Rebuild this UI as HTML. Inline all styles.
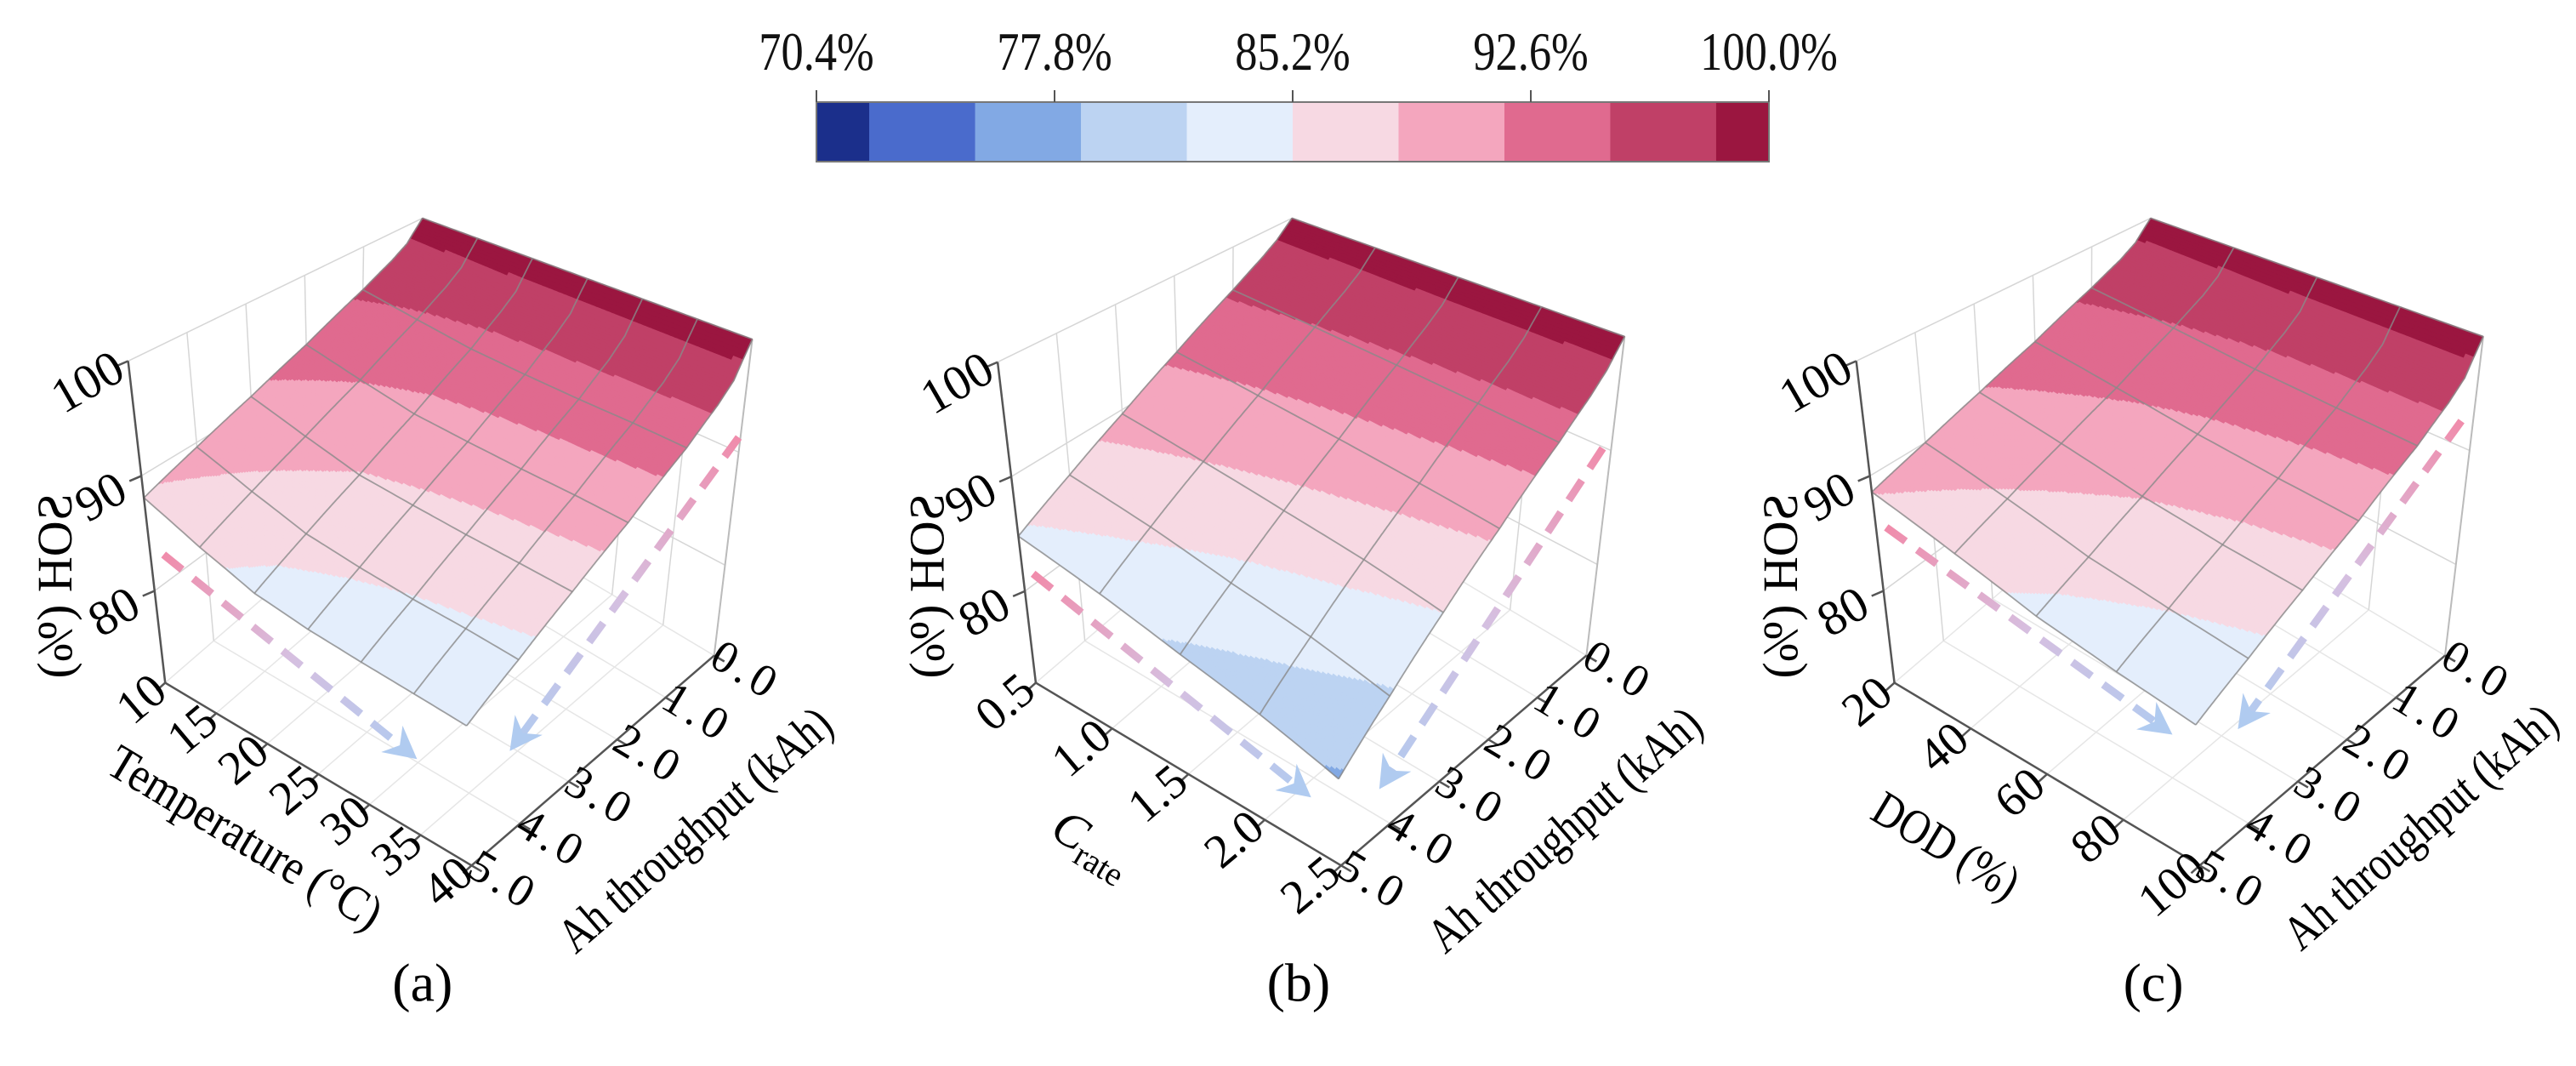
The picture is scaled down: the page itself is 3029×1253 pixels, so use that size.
<!DOCTYPE html>
<html><head><meta charset="utf-8">
<style>
html,body{margin:0;padding:0;background:#fff;}
svg{display:block;font-family:"Liberation Serif",serif;}
</style></head>
<body>
<svg id="fig" width="3029" height="1253" viewBox="0 0 3029 1253" xmlns="http://www.w3.org/2000/svg">
<defs id="defs"></defs>
<g id="colorbar"></g>
<g id="panelA"></g>
<g id="panelB"></g>
<g id="panelC"></g>
</svg>
<script>
// ---- data ----
const cbTicks = [70.4, 77.8, 85.2, 92.6, 100.0];
const cbLabels = ["70.4%", "77.8%", "85.2%", "92.6%", "100.0%"];
const levelBounds = [72.04, 75.33, 78.62, 81.91, 85.2, 88.49, 91.78, 95.07, 98.36];
const levelColors = ["#1b2f8b","#4a6bcc","#82a9e4","#bcd3f2","#e4eefc","#f7d9e3","#f4a6be","#e06a8f","#c04067","#9b1640"];
const ahVals = [0, 1, 2, 3, 4, 5];
const ahLabels = ["0.0","1.0","2.0","3.0","4.0","5.0"];
const surfAh = [0, 0.25, 0.5, 1, 2, 3, 4, 5];
const tempVals = [10, 15, 20, 25, 30, 35, 40];
const crateVals = [0.5, 1.0, 1.5, 2.0, 2.5];
const crateLabels = ["0.5","1.0","1.5","2.0","2.5"];
const dodVals = [20, 40, 60, 80, 100];
const zTicks = [80, 90, 100];
// SOH rows indexed by surfAh, columns by x-variable
const sohA = [
 [100,100,100,100,100,100,100],
 [98.0,97.7,97.4,97.3,97.2,97.1,97.0],
 [97.0,96.5,96.1,95.9,95.7,95.6,95.5],
 [95.5,94.7,94.0,93.7,93.5,93.4,93.2],
 [93.1,91.9,90.9,90.5,90.2,90.0,89.7],
 [91.2,89.7,88.4,87.9,87.5,87.2,86.9],
 [89.6,87.8,86.3,85.6,85.1,84.8,84.4],
 [88.1,86.0,84.3,83.5,83.0,82.6,82.2]
];
const sohB = [
 [100,100,100,100,100],
 [98.4,98.2,98.0,97.9,97.7],
 [97.3,97.0,96.7,96.4,96.1],
 [95.5,95.0,94.5,94.0,93.5],
 [92.4,91.5,90.7,89.9,89.1],
 [89.6,88.5,87.4,86.4,85.2],
 [87.1,85.8,84.3,83.1,81.6],
 [84.8,83.2,81.5,80.0,78.3]
];
const sohC = [
 [100,100,100,100,100],
 [98.1,97.8,97.4,97.2,97.0],
 [97.1,96.6,96.1,95.8,95.5],
 [95.7,94.9,94.1,93.6,93.2],
 [93.4,92.2,91.1,90.3,89.7],
 [91.6,90.1,88.6,87.6,86.9],
 [90.0,88.2,86.4,85.3,84.4],
 [88.6,86.5,84.5,83.2,82.2]
];
const Z0 = 72, Z1 = 100;

const NS = "http://www.w3.org/2000/svg";
function el(tag, attrs, parent){ const e=document.createElementNS(NS,tag); for(const k in attrs) e.setAttribute(k,attrs[k]); if(parent) parent.appendChild(e); return e; }
function levelOf(v){ let i=0; while(i<levelBounds.length && v>levelBounds[i]) i++; return i; }

// ---- colorbar ----
(function(){
 const g=document.getElementById('colorbar');
 const x0=960, x1=2080, y0=120, y1=190;
 const cbScale=v=>x0+(v-cbTicks[0])/(cbTicks[cbTicks.length-1]-cbTicks[0])*(x1-x0);
 const edges=[cbTicks[0]].concat(levelBounds).concat([cbTicks[cbTicks.length-1]]);
 for(let i=0;i<levelColors.length;i++){
  const r=el('rect',{x:cbScale(edges[i]),y:y0,width:cbScale(edges[i+1])-cbScale(edges[i])+0.6,height:y1-y0,fill:levelColors[i]},g);
  
  
 }
 el('rect',{x:x0,y:y0,width:x1-x0,height:y1-y0,fill:'none',stroke:'#777','stroke-width':2},g);
 cbTicks.forEach((t,i)=>{
  const x=cbScale(t);
  el('line',{x1:x,x2:x,y1:y0-14,y2:y0,stroke:'#555','stroke-width':2},g);
  const tx=el('text',{x:0,y:0,'font-size':64,'text-anchor':'middle',fill:'#111',transform:`translate(${x},82) scale(0.82,1)`},g);
  tx.textContent=cbLabels[i];
  
  
 });
})();

// ---- panels ----
function bil(C,u,v){ return [
 (1-u)*(1-v)*C.b[0]+(1-u)*v*C.l[0]+u*v*C.f[0]+u*(1-v)*C.r[0],
 (1-u)*(1-v)*C.b[1]+(1-u)*v*C.l[1]+u*v*C.f[1]+u*(1-v)*C.r[1]]; }

function drawPanel(cfg){
 const g=document.getElementById(cfg.id);
 const off=cfg.off;
 const o=p=>[off+p[0]/1.56, 200+p[1]/1.56];
 const A0=o(cfg.A0),A1=o(cfg.A1),A2=o(cfg.A2),T0=o(cfg.T0),Tb=o(cfg.Tb),T2=o(cfg.T2);
 const F={l:A0,f:A1,r:A2,b:[A0[0]+A2[0]-A1[0],A0[1]+A2[1]-A1[1]]};
 const T={l:T0,b:Tb,r:T2,f:[T0[0]+T2[0]-Tb[0],T0[1]+T2[1]-Tb[1]]};
 const P=(u,v,z)=>{ const w=(z-Z0)/(Z1-Z0); const a=bil(F,u,v), b=bil(T,u,v); return [a[0]+w*(b[0]-a[0]), a[1]+w*(b[1]-a[1])]; };
 const xs=cfg.xVals, xmin=xs[0], xmax=xs[xs.length-1];
 const U=x=>(x-xmin)/(xmax-xmin);
 const ahMax=ahVals[ahVals.length-1];
 const V=a=>(a-ahVals[0])/(ahMax-ahVals[0]);
 const pts=a=>a.map(p=>p[0].toFixed(1)+','+p[1].toFixed(1)).join(' ');
 const gl='#d6d6d6';
 xs.forEach(x=>{ el('line',{x1:P(U(x),0,Z0)[0],y1:P(U(x),0,Z0)[1],x2:P(U(x),1,Z0)[0],y2:P(U(x),1,Z0)[1],stroke:'#e6e6e6','stroke-width':1.5},g); });
 ahVals.forEach(a=>{ el('line',{x1:P(0,V(a),Z0)[0],y1:P(0,V(a),Z0)[1],x2:P(1,V(a),Z0)[0],y2:P(1,V(a),Z0)[1],stroke:'#e6e6e6','stroke-width':1.5},g); });
 ahVals.forEach(a=>{ const p=P(0,V(a),Z0),q=P(0,V(a),Z1); el('line',{x1:p[0],y1:p[1],x2:q[0],y2:q[1],stroke:gl,'stroke-width':1.5},g); });
 xs.forEach(x=>{ const p=P(U(x),0,Z0),q=P(U(x),0,Z1); el('line',{x1:p[0],y1:p[1],x2:q[0],y2:q[1],stroke:gl,'stroke-width':1.5},g); });
 zTicks.forEach(z=>{ el('polyline',{points:pts([P(0,1,z),P(0,0,z),P(1,0,z)]),fill:'none',stroke:gl,'stroke-width':1.5},g); });
 el('polyline',{points:pts([P(1,0,Z0),P(1,0,Z1)]),fill:'none',stroke:'#bbb','stroke-width':2},g);
 // surface
 const sg=el('g',{},g);
 
 
 const S=40, Z=cfg.soh, nx=xs.length, nr=surfAh.length;
 // value at fractional x-index fi and Ah value ah
 const val=(fi,ah)=>{
   const i=Math.min(Math.floor(fi),nx-2), s=fi-i;
   let j=0; while(j<nr-2 && ah>surfAh[j+1]) j++;
   const t=(ah-surfAh[j])/(surfAh[j+1]-surfAh[j]);
   return (1-s)*(1-t)*Z[j][i]+s*(1-t)*Z[j][i+1]+(1-s)*t*Z[j+1][i]+s*t*Z[j+1][i+1]; };
 const PP=(fi,ah)=>P(fi/(nx-1), V(ah), val(fi,ah));
 const NI=(nx-1)*S, NJ=(ahVals.length-1)*S;
 const ahAt=k=>ahMax*k/NJ;
 for(let j=0;j<NJ;j++){
  const b=ahAt(j), d=ahAt(j+1), m=(b+d)/2;
  let i0=0, lv=levelOf(val(0.5/S,m));
  for(let i=1;i<=NI;i++){
   const l2 = i<NI ? levelOf(val((i+0.5)/S,m)) : -1;
   if(l2!==lv){
    const top=[], bot=[];
    for(let k=i0;k<=i;k++){ top.push(PP(k/S,b)); bot.push(PP(k/S,d)); }
    const col=levelColors[lv];
    el('polygon',{points:pts(top.concat(bot.reverse())),fill:col,stroke:col,'stroke-width':0.9},sg);
    i0=i; lv=l2;
   }
  }
 }
 ahVals.forEach(a=>{ const arr=[]; for(let k=0;k<=NI;k+=4) arr.push(PP(k/S,a)); el('polyline',{points:pts(arr),fill:'none',stroke:'#8a8a8a','stroke-width':1.8,'stroke-opacity':0.8},sg); });
 for(let i=0;i<nx;i++){ const arr=[]; for(let k=0;k<=NJ;k+=1) arr.push(PP(i,ahAt(k))); el('polyline',{points:pts(arr),fill:'none',stroke:'#8a8a8a','stroke-width':1.8,'stroke-opacity':0.8},sg); }
 // axes
 const ax='#555';
 el('line',{x1:A0[0],y1:A0[1],x2:P(0,1,Z1)[0],y2:P(0,1,Z1)[1],stroke:ax,'stroke-width':2.5},g);
 el('line',{x1:A0[0],y1:A0[1],x2:A1[0],y2:A1[1],stroke:ax,'stroke-width':2.5},g);
 el('line',{x1:A1[0],y1:A1[1],x2:A2[0],y2:A2[1],stroke:ax,'stroke-width':2.5},g);
 const txt=(x,y,s,rot,fs,name,extra)=>{ const t=el('text',Object.assign({x:0,y:0,'font-size':fs,'text-anchor':'middle','dominant-baseline':'central',fill:'#000',transform:`translate(${x.toFixed(1)},${y.toFixed(1)}) rotate(${rot})`},extra||{}),g); t.textContent=s;   return t; };
 zTicks.forEach(z=>{ const p=P(0,1,z); el('line',{x1:p[0],y1:p[1],x2:p[0]-14,y2:p[1]+6,stroke:ax,'stroke-width':2.5},g);
   txt(p[0]-48,p[1]+24,String(z),-30,58,'z-tick-label'); });
 xs.forEach((x,i)=>{ const p=P(U(x),1,Z0); el('line',{x1:p[0],y1:p[1],x2:p[0]-10,y2:p[1]+9,stroke:ax,'stroke-width':2.5},g);
   txt(p[0]+cfg.xOff[0],p[1]+cfg.xOff[1],cfg.xLabels[i],-40,56,'x-tick-label'); });
 ahVals.forEach((a,i)=>{ const p=P(1,V(a),Z0); el('line',{x1:p[0],y1:p[1],x2:p[0]+12,y2:p[1]+7,stroke:ax,'stroke-width':2.5},g);
   txt(p[0]+38,p[1]+17,ahLabels[i],31,54,'ah-tick-label',{'letter-spacing':'6'}); });
 const t1=o(cfg.xTitle); t1[1]+=18;
 if(cfg.crate){
  const t=el('text',{x:0,y:0,'font-size':58,'text-anchor':'middle','dominant-baseline':'central',transform:`translate(${t1[0]},${t1[1]}) rotate(31)`},g);
   
  const a=el('tspan',{'font-style':'italic'},t); a.textContent='C';
  const b=el('tspan',{'font-size':40,dy:18},t); b.textContent='rate';
 } else {
  txt(t1[0],t1[1],cfg.xTitleText,31,58,'x-axis-title',{textLength:cfg.xTitleLen,lengthAdjust:'spacingAndGlyphs'});
 }
 const t2=o(cfg.ahTitle); txt(t2[0]+6,t2[1]+28,'Ah throughput (kAh)',-41,58,'ah-axis-title',{textLength:405,lengthAdjust:'spacingAndGlyphs'});
 const t3=o(cfg.zTitle);
 const zt=el('text',{x:0,y:0,'font-size':58,'text-anchor':'middle','dominant-baseline':'central',fill:'#000',transform:`translate(${t3[0]-6},${t3[1]-8}) rotate(-90) scale(-1,1)`},g);
 zt.textContent='SOH (%)';
  
 const t4=o(cfg.cap); txt(t4[0],t4[1],cfg.capText,0,64,'panel-caption');
 cfg.arrows.forEach((ar,k)=>{
  const s=o(ar[0]), e=o(ar[1]);
  const gid=cfg.id+'grad'+k;
  const lg=el('linearGradient',{id:gid,gradientUnits:'userSpaceOnUse',x1:s[0],y1:s[1],x2:e[0],y2:e[1]},document.getElementById('defs'));
  el('stop',{offset:'0',  'stop-color':'#f08cab'},lg);
  el('stop',{offset:'0.5','stop-color':'#d6bfe0'},lg);
  el('stop',{offset:'1',  'stop-color':'#b0cbf0'},lg);
  const dx=e[0]-s[0], dy=e[1]-s[1], L=Math.hypot(dx,dy), ux=dx/L, uy=dy/L;
  const le=[e[0]-ux*22,e[1]-uy*22];
  const ln=el('line',{x1:s[0],y1:s[1],x2:le[0],y2:le[1],stroke:`url(#${gid})`,'stroke-width':9,'stroke-dasharray':'28 17'},g);
   
  const nx_=-uy, ny_=ux;
  const h=[[e[0],e[1]],[e[0]-ux*38+nx_*20,e[1]-uy*38+ny_*20],[e[0]-ux*26,e[1]-uy*26],[e[0]-ux*38-nx_*20,e[1]-uy*38-ny_*20]];
  el('polygon',{points:pts(h),fill:'#b0cbf0'},g);
 });
}

drawPanel({id:'panelA',off:0,A0:[303,940],A1:[865,1275],A2:[1310,890],T0:[235,350],Tb:[775,88],T2:[1380,310],
 xVals:tempVals,xLabels:tempVals.map(String),soh:sohA,xOff:[-28,19],xTitle:[450,1195],xTitleText:'Temperature (°C)',xTitleLen:365,
 ahTitle:[1265,1165],zTitle:[110,775],cap:[775,1490],capText:'(a)',
 arrows:[[[300,705],[765,1080]],[[1355,490],[935,1065]]]});
drawPanel({id:'panelB',off:1000,A0:[340,940],A1:[900,1275],A2:[1350,890],T0:[270,352],Tb:[810,88],T2:[1420,305],
 xVals:crateVals,xLabels:crateLabels,soh:sohB,xOff:[-36,23],xTitle:[445,1205],crate:true,
 ahTitle:[1300,1165],zTitle:[150,775],cap:[822,1490],capText:'(b)',
 arrows:[[[335,740],[845,1150]],[[1380,510],[970,1135]]]});
drawPanel({id:'panelC',off:2000,A0:[355,940],A1:[915,1275],A2:[1365,890],T0:[285,350],Tb:[825,88],T2:[1435,305],
 xVals:dodVals,xLabels:dodVals.map(String),soh:sohC,xOff:[-32,22],xTitle:[450,1210],xTitleText:'DOD (%)',xTitleLen:190,
 ahTitle:[1310,1160],zTitle:[155,775],cap:[830,1490],capText:'(c)',
 arrows:[[[340,655],[865,1035]],[[1395,460],[985,1025]]]});
</script>
</body></html>
